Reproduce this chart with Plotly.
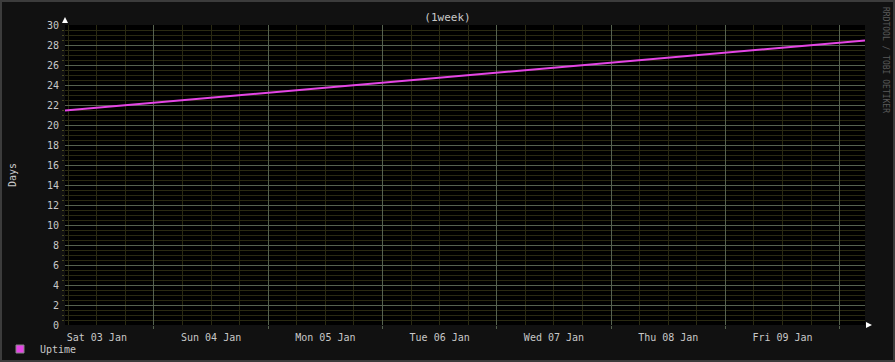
import plotly.graph_objects as go

# ---- data ----
times = [
    "2015-01-03 05:19", "2015-01-04 00:00", "2015-01-05 00:00", "2015-01-06 00:00",
    "2015-01-07 00:00", "2015-01-08 00:00", "2015-01-09 00:00", "2015-01-10 00:00",
    "2015-01-10 05:19",
]
uptime_days = [21.45, 22.23, 23.23, 24.23, 25.23, 26.23, 27.23, 28.23, 28.45]
x_range = ["2015-01-03 05:19", "2015-01-10 05:19"]
title_text = "(1week)"
y_title = "Days"
series_name = "Uptime"
watermark = "RRDTOOL / TOBI OETIKER"

# ---- styles ----
PAPER = "#111111"
PLOT = "#000000"
TEXT = "#c8c8c8"
MINOR = "#2a2a12"
MAJOR = "#56624f"
LINE = "#e545e5"
FONT = "DejaVu Sans Mono"

fig = go.Figure()
fig.add_trace(go.Scatter(x=times, y=uptime_days, mode="lines",
                         line=dict(color=LINE, width=2), showlegend=False,
                         hoverinfo="skip"))
# legend entry (square swatch)
fig.add_trace(go.Scatter(x=[None], y=[None], mode="markers", name=series_name,
                         marker=dict(symbol="square", size=8, color=LINE,
                                     line=dict(color="#888888", width=1))))
# invisible trace for the overlay day axis
fig.add_trace(go.Scatter(x=times, y=uptime_days, xaxis="x2", mode="lines",
                         line=dict(width=0, color="rgba(0,0,0,0)"),
                         showlegend=False, hoverinfo="skip"))

fig.update_layout(
    width=895, height=362,
    margin=dict(l=65, r=30, t=25, b=37, autoexpand=False),
    paper_bgcolor=PAPER, plot_bgcolor=PLOT,
    font=dict(family=FONT, size=10, color=TEXT),
    title=dict(text=title_text, x=0.5, xref="container", xanchor="center",
               y=1 - 17 / 362, yref="container", yanchor="middle",
               font=dict(family=FONT, size=11, color=TEXT)),
    showlegend=True,
    legend=dict(xref="container", yref="container", x=0, y=1 - 349 / 362,
                xanchor="left", yanchor="middle", bgcolor="rgba(0,0,0,0)",
                font=dict(family=FONT, size=10, color=TEXT),
                itemwidth=30, tracegroupgap=0),
    xaxis=dict(type="date", range=x_range, showticklabels=False,
               showgrid=True, gridcolor=MINOR, gridwidth=1,
               dtick=6 * 3600 * 1000, tick0="2015-01-03 00:00",
               zeroline=False, showline=False, ticks="", automargin=False),
    xaxis2=dict(type="date", range=x_range, overlaying="x", side="bottom",
                anchor="y", showgrid=True, gridcolor=MAJOR,
                gridwidth=1, dtick=86400000, tick0="2015-01-03 00:00",
                ticklabelmode="period", tickformat="%a %d %b",
                ticks="outside", ticklen=3, tickcolor=MAJOR,
                tickfont=dict(family=FONT, size=10, color=TEXT),
                zeroline=False, showline=False, automargin=False),
    yaxis=dict(range=[0, 30], dtick=2, showgrid=True, gridcolor=MAJOR,
               gridwidth=1, zeroline=False, showline=False,
               ticks="", tickfont=dict(family=FONT, size=10, color=TEXT),
               ticklabelstandoff=5, automargin=False,
               minor=dict(dtick=0.5, showgrid=True, gridcolor=MINOR,
                          gridwidth=1, ticks="outside",
                          ticklen=2, tickcolor="#4a4a20")),
)

# y axis title
fig.add_annotation(text=y_title, xref="paper", yref="paper",
                   x=(12 - 65) / 800, y=0.5, xanchor="center", yanchor="middle",
                   textangle=-90, showarrow=False,
                   font=dict(family=FONT, size=10, color=TEXT))

# axis arrows
fig.add_shape(type="path", xref="paper", yref="paper", xsizemode="pixel",
              ysizemode="pixel", xanchor=0, yanchor=1,
              path="M -3 2 L 3 2 L 0 8 Z", fillcolor="#ffffff",
              line=dict(width=0))
fig.add_shape(type="path", xref="paper", yref="paper", xsizemode="pixel",
              ysizemode="pixel", xanchor=1, yanchor=0,
              path="M 1 -3 L 1 3 L 7 0 Z", fillcolor="#ffffff",
              line=dict(width=0))
fig.add_annotation(text=watermark, xref="paper", yref="paper",
                   x=1 + 21 / 800, y=1 + 20 / 300, xanchor="center", yanchor="top",
                   textangle=90, showarrow=False,
                   font=dict(family=FONT, size=8, color="#5a5a5a"))

# outer border of the image
fig.add_shape(type="rect", xref="paper", yref="paper",
              x0=-64 / 800, x1=1 + 29 / 800, y0=-36 / 300, y1=1 + 24 / 300,
              line=dict(color="#3c3c3c", width=2), layer="below")

fig.write_html("out.html")
